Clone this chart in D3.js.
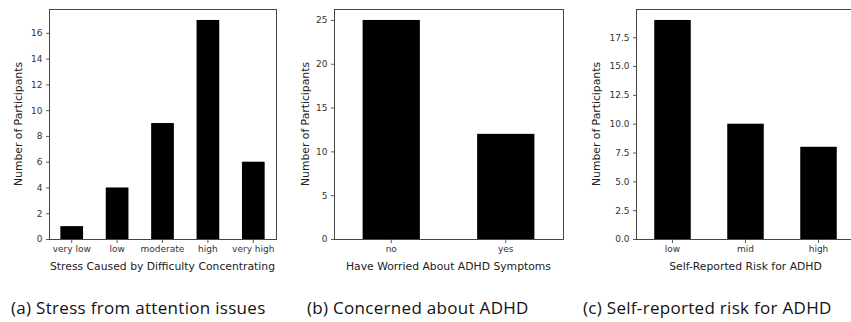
<!DOCTYPE html>
<html>
<head>
<meta charset="utf-8">
<script src="https://cdn.jsdelivr.net/npm/d3@7/dist/d3.min.js"></script>
<style>
  html, body { margin: 0; padding: 0; background: #fff; overflow: hidden; }
  svg { display: block; }
  .tick text { font-family: "DejaVu Sans", sans-serif; font-size: 9px; fill: #333; }
  .axlabel { font-family: "DejaVu Sans", sans-serif; font-size: 10.8px; fill: #222; }
  .caption { font-family: "Open Sans", "Noto Sans", sans-serif; font-size: 17px; letter-spacing: 0.3px; fill: #111; }
</style>
</head>
<body>
<svg id="chart" width="851" height="322"></svg>
<script>
// Survey response counts for the three questions
const stressCategories = ["very low", "low", "moderate", "high", "very high"];
const stressCounts = [1, 4, 9, 17, 6];
const stressTicks = [0, 2, 4, 6, 8, 10, 12, 14, 16];

const worriedCategories = ["no", "yes"];
const worriedCounts = [25, 12];
const worriedTicks = [0, 5, 10, 15, 20, 25];

const riskCategories = ["low", "mid", "high"];
const riskCounts = [19, 10, 8];
const riskTicks = [0, 2.5, 5, 7.5, 10, 12.5, 15, 17.5];

const panels = [
  { cats: stressCategories, vals: stressCounts, ticks: stressTicks, fmt: d3.format("d"),
    xLabel: "Stress Caused by Difficulty Concentrating", caption: "(a) Stress from attention issues",
    left: 49, right: 276, yLabelGap: 27, captionX: 11 },
  { cats: worriedCategories, vals: worriedCounts, ticks: worriedTicks, fmt: d3.format("d"),
    xLabel: "Have Worried About ADHD Symptoms", caption: "(b) Concerned about ADHD",
    left: 334, right: 563, yLabelGap: 25, captionX: 307 },
  { cats: riskCategories, vals: riskCounts, ticks: riskTicks, fmt: d3.format(".1f"),
    xLabel: "Self-Reported Risk for ADHD", caption: "(c) Self-reported risk for ADHD",
    left: 636, right: 855, yLabelGap: 36, captionX: 583 }
];

const plotTop = 9, plotBottom = 239;
const svg = d3.select("#chart");

panels.forEach(p => {
  const g = svg.append("g");
  const x = d3.scaleBand().domain(p.cats).range([p.left, p.right]).paddingInner(0.5).paddingOuter(0.25);
  const y = d3.scaleLinear().domain([0, d3.max(p.vals) * 1.05]).range([plotBottom, plotTop]);

  g.selectAll("rect.bar").data(p.cats).join("rect")
    .attr("class", "bar")
    .attr("x", d => x(d))
    .attr("width", x.bandwidth())
    .attr("y", (d, i) => y(p.vals[i]))
    .attr("height", (d, i) => plotBottom - y(p.vals[i]))
    .attr("fill", "#000");

  // frame
  g.append("rect")
    .attr("x", p.left + 0.5).attr("y", plotTop + 0.5)
    .attr("width", p.right - p.left).attr("height", plotBottom - plotTop)
    .attr("fill", "none").attr("stroke", "#333").attr("stroke-width", 0.9);

  const yAxis = g.append("g").attr("transform", `translate(${p.left + 0.5},0)`)
    .call(d3.axisLeft(y).tickValues(p.ticks).tickFormat(p.fmt).tickSize(3.5).tickPadding(3.5));
  yAxis.select(".domain").remove();
  yAxis.selectAll(".tick line").attr("stroke", "#333").attr("stroke-width", 0.8);

  const xAxis = g.append("g").attr("transform", `translate(0,${plotBottom + 0.5})`)
    .call(d3.axisBottom(x).tickSize(3.5).tickPadding(2.5));
  xAxis.select(".domain").remove();
  xAxis.selectAll(".tick line").attr("stroke", "#333").attr("stroke-width", 0.8);

  g.append("text").attr("class", "axlabel")
    .attr("x", (p.left + p.right) / 2).attr("y", 270)
    .attr("text-anchor", "middle").text(p.xLabel);

  g.append("text").attr("class", "axlabel")
    .attr("transform", `translate(${p.left - p.yLabelGap},${(plotTop + plotBottom) / 2}) rotate(-90)`)
    .attr("text-anchor", "middle").text("Number of Participants");

  svg.append("text").attr("class", "caption")
    .attr("x", p.captionX).attr("y", 314).text(p.caption);
});
</script>
</body>
</html>
